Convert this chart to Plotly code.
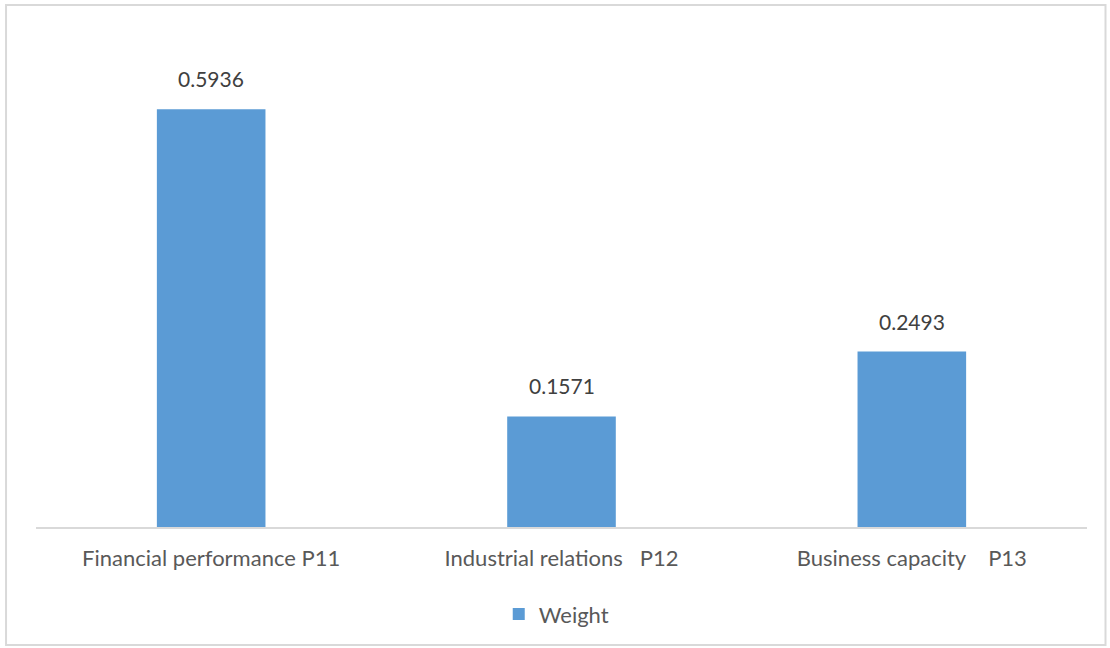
import plotly.graph_objects as go

categories = ["Financial performance P11", "Industrial relations\u00a0\u00a0\u00a0P12", "Business capacity\u00a0\u00a0\u00a0\u00a0P13"]
weights = [0.5936, 0.1571, 0.2493]
series_name = "Weight"

FONT = "Lato, Open Sans, sans-serif"
TXT = "#595959"

fig = go.Figure()
fig.add_trace(go.Bar(
    x=categories, y=weights, name=series_name,
    marker=dict(color="#5b9bd5", line=dict(width=0)),
    width=0.31, showlegend=True,
))
for c, v in zip(categories, weights):
    fig.add_annotation(x=c, y=v, text=f"{v:.4f}", showarrow=False,
                       yanchor="bottom", yshift=16,
                       font=dict(family=FONT, size=21, color="#404040"))

fig.add_shape(type="rect", xref="paper", yref="paper",
              x0=-0.0285, x1=1.0176, y0=-0.2423, y1=1.0719,
              line=dict(color="#d9d9d9", width=2), fillcolor="rgba(0,0,0,0)", layer="below")

fig.update_layout(
    width=1110, height=648,
    margin=dict(l=36, r=23, t=40, b=121),
    paper_bgcolor="white", plot_bgcolor="white",
    font=dict(family=FONT, size=22, color=TXT),
    bargap=0.69,
    legend=dict(orientation="h", x=0.495, xanchor="center", y=-0.179, yanchor="middle",
                font=dict(family=FONT, size=22, color=TXT), itemwidth=30),
    xaxis=dict(showline=True, linecolor="#d9d9d9", linewidth=2, ticks="",
               ticklabelstandoff=11, tickfont=dict(family=FONT, size=22, color=TXT),
               showgrid=False),
    yaxis=dict(range=[0, 0.692], visible=False, showgrid=False, zeroline=False),
)

fig.write_html("out.html")
